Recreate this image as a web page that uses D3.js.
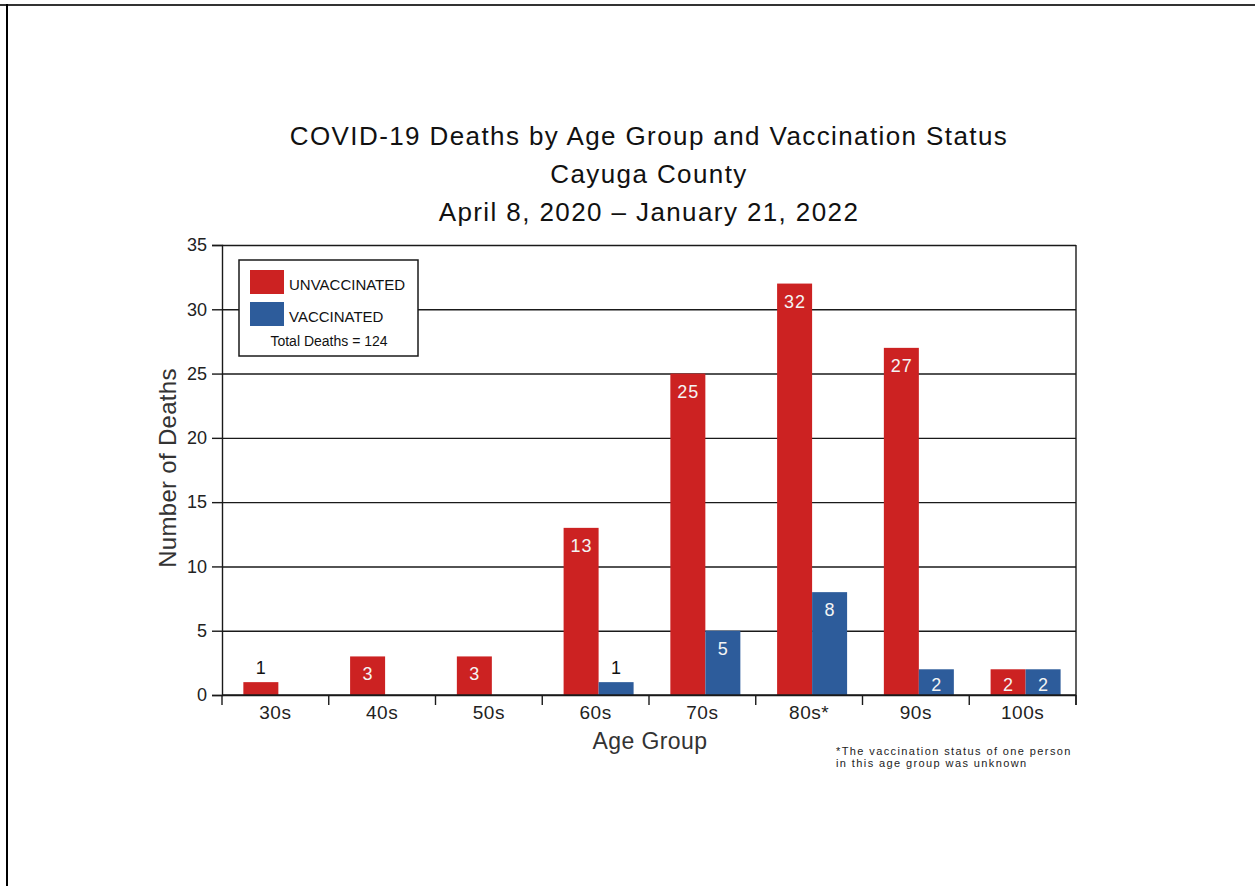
<!DOCTYPE html>
<html>
<head>
<meta charset="utf-8">
<script src="https://cdn.jsdelivr.net/npm/d3@7"></script>
<style>
  body { margin: 0; background: #fff; }
  svg { display: block; font-family: "Liberation Sans", Arial, sans-serif; }
</style>
</head>
<body>
<svg id="viz_area" width="1255" height="886"></svg>
<script>
const ageGroups = ['30s', '40s', '50s', '60s', '70s', '80s*', '90s', '100s']
const unvaccinated = [1, 3, 3, 13, 25, 32, 27, 2]
const vaccinated = [0, 0, 0, 1, 5, 8, 2, 2]
const seriesNames = ['UNVACCINATED', 'VACCINATED']
const seriesColors = ['#cc2222', '#2d5c9b']
const yTicks = [0, 5, 10, 15, 20, 25, 30, 35]
const titleLines = [
    'COVID-19 Deaths by Age Group and Vaccination Status',
    'Cayuga County',
    'April 8, 2020 \u2013 January 21, 2022'
]
const totalLabel = 'Total Deaths = 124'
const footnote = ['*The vaccination status of one person', 'in this age group was unknown']

const margin = {
    top: 245,
    right: 179,
    bottom: 191,
    left: 222
}

let svgSize, graphSize

function setSizing() {
    svgSize = { width: 1255, height: 886 }
    graphSize = {
        width: svgSize.width - margin.left - margin.right,
        height: svgSize.height - margin.top - margin.bottom
    }
}

function drawPageFrame(svg) {
    svg.append('line')
        .attr('x1', 0).attr('x2', svgSize.width)
        .attr('y1', 5).attr('y2', 5)
        .attr('stroke', '#333').attr('stroke-width', 2)
    svg.append('line')
        .attr('x1', 7).attr('x2', 7)
        .attr('y1', 4).attr('y2', svgSize.height)
        .attr('stroke', '#000').attr('stroke-width', 2)
}

function drawTitle(svg) {
    svg.append('text')
        .attr('text-anchor', 'middle')
        .attr('font-size', 26)
        .attr('letter-spacing', 1.4)
        .attr('fill', '#111')
        .selectAll('tspan')
        .data(titleLines)
        .enter()
        .append('tspan')
        .attr('x', 649)
        .attr('y', function (d, i) { return 145 + i * 38 })
        .text(function (d) { return d })
}

function drawChart() {
    setSizing()
    const svg = d3.select('#viz_area')
    drawPageFrame(svg)
    drawTitle(svg)

    const g = svg.append('g')
        .attr('transform', 'translate(' + margin.left + ',' + margin.top + ')')

    const x0 = d3.scaleBand()
        .domain(ageGroups)
        .range([0, graphSize.width])

    const bw = x0.bandwidth()
    const x1 = d3.scaleBand()
        .domain(seriesNames)
        .range([bw * 0.2, bw * 0.2 + 70])

    const y = d3.scaleLinear()
        .domain([0, 35])
        .range([graphSize.height, 0])

    // grid lines
    g.append('g')
        .attr('class', 'grid')
        .call(d3.axisLeft(y).tickValues(yTicks).tickSize(-graphSize.width).tickFormat(''))
        .call(function (s) {
            s.select('.domain').remove()
            s.selectAll('line').attr('stroke', '#1a1a1a').attr('stroke-width', 1.4)
        })

    // right border
    g.append('line')
        .attr('x1', graphSize.width).attr('x2', graphSize.width)
        .attr('y1', 0).attr('y2', graphSize.height + 10)
        .attr('stroke', '#1a1a1a').attr('stroke-width', 1.4)

    // y axis
    g.append('g')
        .attr('class', 'y axis')
        .call(d3.axisLeft(y).tickValues(yTicks).tickSize(10).tickPadding(5))
        .call(function (s) {
            s.select('.domain').attr('stroke', '#1a1a1a').attr('stroke-width', 1.4)
            s.selectAll('line').attr('stroke', '#1a1a1a').attr('stroke-width', 1.4)
            s.selectAll('text')
                .attr('font-size', 18)
                .attr('font-family', '"Liberation Sans", Arial, sans-serif')
                .attr('fill', '#222')
        })

    const rows = ageGroups.map(function (a, i) {
        return { group: a, values: [unvaccinated[i], vaccinated[i]] }
    })

    const bars = g.selectAll('.group')
        .data(rows)
        .enter()
        .append('g')
        .attr('class', 'group')
        .attr('transform', function (d) { return 'translate(' + x0(d.group) + ',0)' })

    const cells = bars.selectAll('g.cell')
        .data(function (d) {
            return d.values.map(function (v, k) { return { key: seriesNames[k], value: v, k: k } })
                .filter(function (c) { return c.value > 0 })
        })
        .enter()
        .append('g')
        .attr('class', 'cell')

    cells.append('rect')
        .attr('x', function (d) { return x1(d.key) })
        .attr('y', function (d) { return y(d.value) })
        .attr('width', x1.bandwidth())
        .attr('height', function (d) { return graphSize.height - y(d.value) })
        .attr('fill', function (d) { return seriesColors[d.k] })

    cells.append('text')
        .attr('x', function (d) { return x1(d.key) + x1.bandwidth() / 2 + 0.5 })
        .attr('y', function (d) {
            if (d.value < 2) return y(d.value) - 8
            return Math.min(y(d.value) + 24, graphSize.height - 4)
        })
        .attr('text-anchor', 'middle')
        .attr('font-size', 18)
        .attr('letter-spacing', 1)
        .attr('fill', function (d) { return d.value < 2 ? '#111' : '#f4f4f4' })
        .text(function (d) { return d.value })

    // x axis
    const xAxis = g.append('g')
        .attr('class', 'x axis')
        .attr('transform', 'translate(0,' + graphSize.height + ')')
    xAxis.append('line')
        .attr('x1', 0).attr('x2', graphSize.width)
        .attr('stroke', '#1a1a1a').attr('stroke-width', 1.4)
    xAxis.selectAll('line.tick')
        .data(ageGroups.map(function (a) { return x0(a) }).concat([graphSize.width]))
        .enter()
        .append('line')
        .attr('class', 'tick')
        .attr('x1', function (d) { return d }).attr('x2', function (d) { return d })
        .attr('y1', 0).attr('y2', 10)
        .attr('stroke', '#1a1a1a').attr('stroke-width', 1.4)
    xAxis.selectAll('text')
        .data(ageGroups)
        .enter()
        .append('text')
        .attr('x', function (d) { return x0(d) + bw / 2 })
        .attr('y', 24)
        .attr('text-anchor', 'middle')
        .attr('font-size', 19)
        .attr('letter-spacing', 0.5)
        .attr('fill', '#222')
        .text(function (d) { return d })

    // axis titles
    g.append('text')
        .attr('x', graphSize.width / 2 + 1)
        .attr('y', graphSize.height + 54)
        .attr('text-anchor', 'middle')
        .attr('font-size', 23)
        .attr('letter-spacing', 0.4)
        .attr('fill', '#333')
        .text('Age Group')

    g.append('text')
        .attr('transform', 'translate(-46,223) rotate(-90)')
        .attr('text-anchor', 'middle')
        .attr('font-size', 24)
        .attr('letter-spacing', 0.3)
        .attr('fill', '#333')
        .text('Number of Deaths')

    drawLegend(g)

    // footnote
    g.append('text')
        .attr('font-size', 11)
        .attr('letter-spacing', 1.4)
        .attr('fill', '#222')
        .selectAll('tspan')
        .data(footnote)
        .enter()
        .append('tspan')
        .attr('x', 614)
        .attr('y', function (d, i) { return 510 + i * 12 })
        .text(function (d) { return d })
}

function drawLegend(g) {
    const legend = g.append('g')
        .attr('transform', 'translate(17,15)')

    legend.append('rect')
        .attr('width', 179).attr('height', 96)
        .attr('fill', '#fff')
        .attr('stroke', '#1a1a1a').attr('stroke-width', 1.5)

    const items = legend.selectAll('.item')
        .data(seriesNames)
        .enter()
        .append('g')
        .attr('class', 'item')
        .attr('transform', function (d, i) { return 'translate(11,' + (10 + i * 32) + ')' })

    items.append('rect')
        .attr('width', 34).attr('height', 24)
        .attr('fill', function (d, i) { return seriesColors[i] })

    items.append('text')
        .attr('x', 39).attr('y', 20)
        .attr('font-size', 15)
        .attr('fill', '#111')
        .text(function (d) { return d })

    legend.append('text')
        .attr('x', 90).attr('y', 86)
        .attr('text-anchor', 'middle')
        .attr('font-size', 14)
        .attr('fill', '#111')
        .text(totalLabel)
}

drawChart()
</script>
</body>
</html>
